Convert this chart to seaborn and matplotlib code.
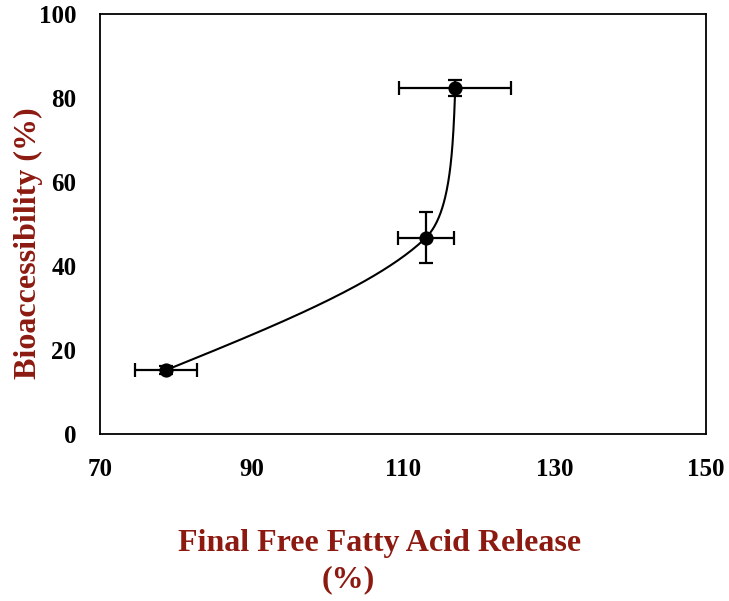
import numpy as np
import pandas as pd
import matplotlib
matplotlib.use("Agg")
import matplotlib.pyplot as plt
import seaborn as sns

# Final free fatty acid release (%) vs bioaccessibility (%), mean ± SD
ffa_release = [78.7, 113.0, 116.9]
ffa_sd = [4.1, 3.7, 7.4]
bioaccess = [15.2, 46.7, 82.4]
bioaccess_sd = [0.9, 6.1, 1.9]

x_ticks = [70, 90, 110, 130, 150]
y_ticks = [0, 20, 40, 60, 80, 100]

LABEL_RED = "#8C1A11"

sns.set_theme(style="white")
plt.rcParams["font.family"] = ["Liberation Serif", "DejaVu Serif"]
plt.rcParams["font.weight"] = "bold"

fig = plt.figure(figsize=(7.29, 6.01), dpi=100)
ax = fig.add_axes([100 / 729, 1 - 434 / 601, 606 / 729, 420 / 601])
ax.set_xlim(70, 150)
ax.set_ylim(0, 100)


def smooth_curve(ax, xs, ys, k=0.25, n=80):
    """Piecewise cubic Bezier through the points, built in display space."""
    P = ax.transData.transform(np.column_stack([xs, ys]))
    m = len(P)
    seg = [np.linalg.norm(P[i + 1] - P[i]) for i in range(m - 1)]
    c_out = [None] * m
    c_in = [None] * m
    for i in range(1, m - 1):
        T = P[i + 1] - P[i - 1]
        dp, dn = seg[i - 1], seg[i]
        c_in[i] = P[i] - T * k * dp / (dp + dn)
        c_out[i] = P[i] + T * k * dn / (dp + dn)
    # natural end conditions
    c_out[0] = (P[0] + c_in[1]) / 2 if m > 2 else P[0] + (P[1] - P[0]) / 3
    c_in[m - 1] = (P[m - 1] + c_out[m - 2]) / 2 if m > 2 else P[1] - (P[1] - P[0]) / 3
    t = np.linspace(0, 1, n)[:, None]
    pts = []
    for i in range(m - 1):
        b = ((1 - t) ** 3 * P[i] + 3 * (1 - t) ** 2 * t * c_out[i]
             + 3 * (1 - t) * t ** 2 * c_in[i + 1] + t ** 3 * P[i + 1])
        pts.append(b if i == 0 else b[1:])
    pts = np.vstack(pts)
    return ax.transData.inverted().transform(pts)


curve = smooth_curve(ax, ffa_release, bioaccess)
curve_df = pd.DataFrame({"x": curve[:, 0], "y": curve[:, 1]})
sns.lineplot(data=curve_df, x="x", y="y", sort=False, estimator=None,
             color="black", linewidth=1.5, ax=ax)

ax.errorbar(ffa_release, bioaccess, xerr=ffa_sd, yerr=bioaccess_sd,
            fmt="none", ecolor="black", elinewidth=1.6, capsize=5,
            capthick=1.6, zorder=3)

pts_df = pd.DataFrame({"x": ffa_release, "y": bioaccess})
sns.scatterplot(data=pts_df, x="x", y="y", color="black", s=105,
                edgecolor="black", linewidth=0, zorder=4, ax=ax)

ax.set_xlim(70, 150)
ax.set_ylim(0, 100)
ax.set_xticks(x_ticks)
ax.set_yticks(y_ticks)
ax.tick_params(axis="both", direction="out", length=5, width=1.3,
               color="black", labelsize=18, labelcolor="black")
ax.tick_params(axis="x", pad=12)
ax.tick_params(axis="y", pad=12)
for lab in ax.get_xticklabels() + ax.get_yticklabels():
    lab.set_fontweight("bold")

for side in ["left", "right", "top", "bottom"]:
    ax.spines[side].set_visible(True)
    ax.spines[side].set_color("black")
    ax.spines[side].set_linewidth(1.3)

ax.set_xlabel("")
ax.set_ylabel("")
fig.text(28 / 729, 1 - 243 / 601, "Bioaccessibility (%)", rotation=90,
         ha="center", va="center", fontsize=23, fontweight="bold",
         color=LABEL_RED)
fig.text(380 / 729, 1 - 544 / 601, "Final Free Fatty Acid Release",
         ha="center", va="center", fontsize=23, fontweight="bold",
         color=LABEL_RED)
fig.text(348 / 729, 1 - 580 / 601, "(%)",
         ha="center", va="center", fontsize=23, fontweight="bold",
         color=LABEL_RED)

fig.savefig("out.png", dpi=100, facecolor="white")
